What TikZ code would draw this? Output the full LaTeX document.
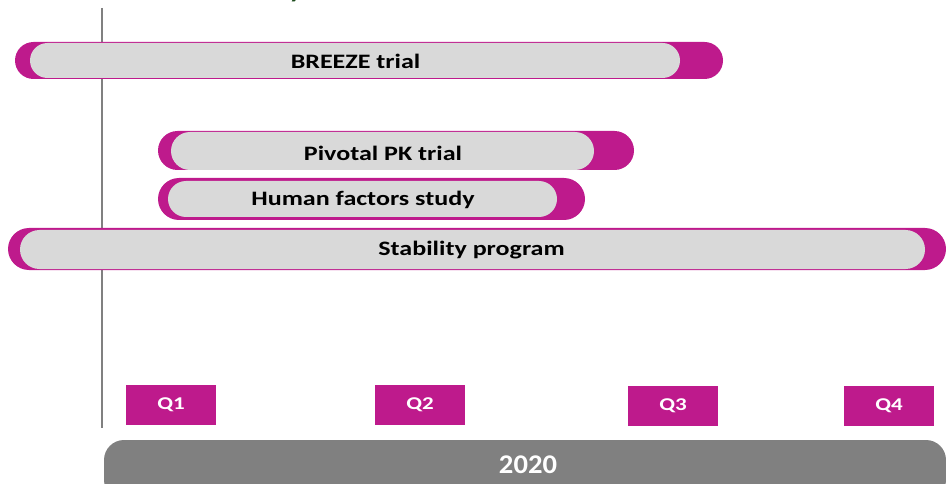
\documentclass[tikz,border=0pt]{standalone}
\usepackage{fontspec}
\setmainfont{Carlito}
\newfontfamily\barfont[FakeStretch=1.27]{Carlito}
\newfontfamily\qfont[FakeStretch=1.28]{Carlito}
\newfontfamily\yearfont[FakeStretch=1.06]{Carlito}
\definecolor{mag}{HTML}{BE1A8C}
\definecolor{lgray}{HTML}{D9D9D9}
\definecolor{dgray}{HTML}{808080}
\definecolor{dgreen}{HTML}{1E4D1E}
\tikzset{
  barlabel/.style={font=\barfont\bfseries\fontsize{20.5}{24}\selectfont, text=black, inner sep=0pt},
  qbox/.style={fill=mag, text=white, font=\qfont\bfseries\fontsize{18}{21}\selectfont, minimum width=90pt, minimum height=40pt, inner sep=0pt},
}
\begin{document}
\begin{tikzpicture}[x=1pt,y=-1pt]
\useasboundingbox (0,0) rectangle (946,484);
% title fragment
\node[anchor=base west, inner sep=0pt, text=dgreen, font=\bfseries\fontsize{28}{32}\selectfont] (title) at (289,-2) {y};
% axis line
\draw[dgray, line width=1.4pt] (102,8) coordinate (axtop) -- (102,428) coordinate (axbot);
% BREEZE
\fill[mag, rounded corners=18.5pt] (15,42) rectangle (723,79);
\fill[lgray, rounded corners=17.5pt] (30,43) rectangle (680,78);
\node[barlabel] (breeze) at (355.5,61.5) {BREEZE trial};
% Pivotal PK
\fill[mag, rounded corners=19.5pt] (158,131) rectangle (634,170);
\fill[lgray, rounded corners=19pt] (171,132) rectangle (594,170);
\node[barlabel] (pk) at (383,153.5) {Pivotal PK trial};
% Human factors
\fill[mag, rounded corners=21pt] (158,178) rectangle (585,220);
\fill[lgray, rounded corners=18pt] (168,181) rectangle (557,217);
\node[barlabel] (hf) at (363,199.5) {Human factors study};
% Stability
\fill[mag, rounded corners=21pt] (8,228) rectangle (946,270);
\fill[lgray, rounded corners=19.5pt] (20,230) rectangle (925,269);
\node[barlabel] (stab) at (471.5,250.5) {Stability program};
% quarters
\node[qbox] (q1) at (171,405) {Q1};
\node[qbox] (q2) at (420,405) {Q2};
\node[qbox] (q3) at (673,406) {Q3};
\node[qbox] (q4) at (889,406) {Q4};
% year bar
\fill[dgray, rounded corners=20pt] (104,440) rectangle (946,500);
\node[text=white, font=\yearfont\bfseries\fontsize{27}{31}\selectfont, inner sep=0pt] (year) at (528,465) {2020};
\end{tikzpicture}
\end{document}
